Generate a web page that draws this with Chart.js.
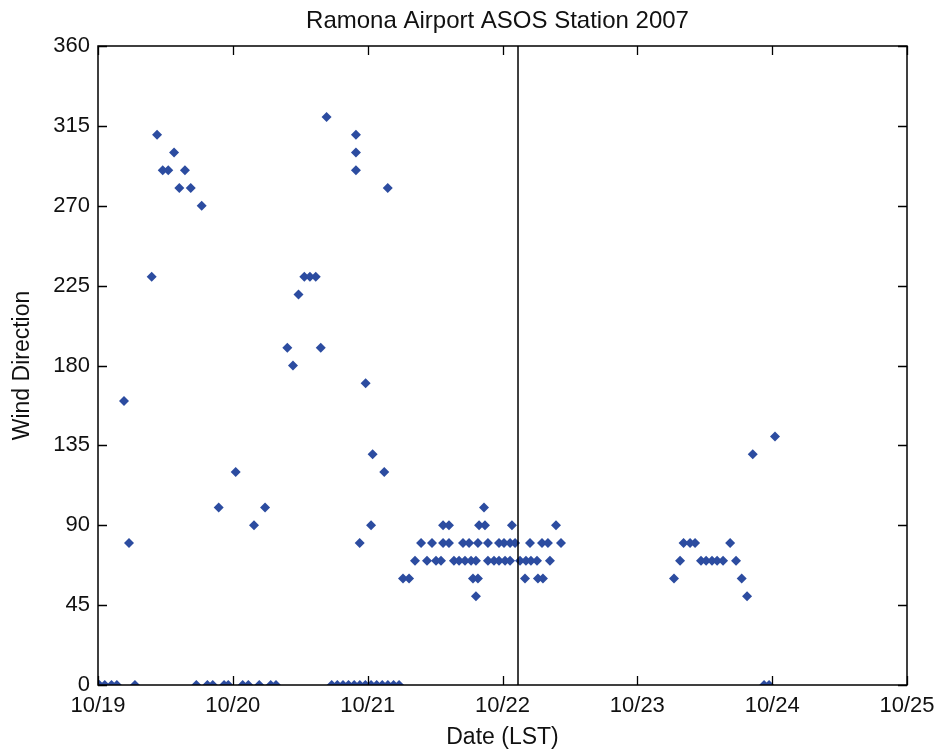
<!DOCTYPE html>
<html>
<head>
<meta charset="utf-8">
<script src="https://cdn.jsdelivr.net/npm/chart.js@4"></script>
<style>
html,body{margin:0;padding:0;background:#fff;}
#wrap{width:937px;height:752px;}
</style>
</head>
<body>
<div id="wrap"><canvas id="c" width="937" height="752"></canvas></div>
<script>
// ---- data (x = days since 10/19 00:00 LST, y = wind direction in degrees) ----
const chartTitle = 'Ramona Airport ASOS Station 2007';
const xTickLabels = ['10/19','10/20','10/21','10/22','10/23','10/24','10/25'];
const yTickValues = [0,45,90,135,180,225,270,315,360];
const markerLineDay = 3.115;

const obsDay = [
  0.01,0.05,0.10,0.14,0.193,0.230,0.274,0.398,0.438,0.480,0.521,0.564,0.603,0.645,0.688,
  0.729,0.769,0.811,0.851,0.895,0.935,0.966,1.021,1.073,1.115,1.157,1.196,1.239,1.281,1.320,
  1.404,1.446,1.487,1.530,1.572,1.615,1.652,1.695,
  1.733,1.775,1.817,1.858,1.900,1.942,1.983,2.025,2.067,2.108,2.150,2.192,2.233,
  1.913,1.913,1.913,1.941,1.985,2.025,2.037,2.123,2.149,
  2.262,2.307,2.781,2.818,3.167,3.263,3.300,
  2.803,2.863,
  2.559,2.603,2.826,2.870,3.070,3.397,
  2.396,2.477,2.559,2.603,2.707,2.752,2.818,2.892,2.974,3.011,3.056,3.093,3.204,3.293,3.337,3.434,
  2.351,2.440,2.507,2.544,2.640,2.678,2.722,2.767,2.803,2.892,2.937,2.974,3.019,3.056,3.130,3.174,3.211,3.256,3.352,
  4.272,4.317,4.343,4.391,4.428,4.472,4.510,4.554,4.592,4.636,4.688,4.732,4.774,4.814,4.856,4.940,4.977,5.021
];
const obsDir = [
  0,0,0,0,160,80,0,230,310,290,290,300,280,290,280,
  0,270,0,0,100,0,0,120,0,0,90,0,100,0,0,
  190,180,220,230,230,230,190,320,
  0,0,0,0,0,0,0,0,0,0,0,0,0,
  310,300,290,80,170,90,130,120,280,
  60,60,60,60,60,60,60,
  50,100,
  90,90,90,90,90,90,
  80,80,80,80,80,80,80,80,80,80,80,80,80,80,80,80,
  70,70,70,70,70,70,70,70,70,70,70,70,70,70,70,70,70,70,70,
  60,70,80,80,80,70,70,70,70,70,80,70,60,50,130,0,0,140
];

const points = obsDay.map((d,i)=>({x:d,y:obsDir[i]}));
const vline = [{x:markerLineDay,y:yTickValues[0]},{x:markerLineDay,y:yTickValues[yTickValues.length-1]}];

const FONT = 'Liberation Sans, Arial, sans-serif';

const frameTicks = {
  id:'frameTicks',
  afterDatasetsDraw(chart){
    const {ctx, chartArea:a, scales:{x,y}} = chart;
    const L = 9;
    ctx.save();
    ctx.strokeStyle = '#000';
    ctx.lineWidth = 1.3;
    ctx.beginPath();
    x.ticks.forEach(t=>{
      const px = Math.round(x.getPixelForValue(t.value))+0.5;
      ctx.moveTo(px,a.bottom); ctx.lineTo(px,a.bottom-L);
      ctx.moveTo(px,a.top); ctx.lineTo(px,a.top+L);
    });
    y.ticks.forEach(t=>{
      const py = Math.round(y.getPixelForValue(t.value))+0.5;
      ctx.moveTo(a.left,py); ctx.lineTo(a.left+L,py);
      ctx.moveTo(a.right,py); ctx.lineTo(a.right-L,py);
    });
    ctx.stroke();
    ctx.lineWidth = 1.5;
    ctx.strokeRect(a.left, a.top, a.right-a.left, a.bottom-a.top);
    ctx.restore();
  }
};

const titlePlugin = {
  id:'topTitle',
  afterDraw(chart){
    const {ctx, chartArea:a} = chart;
    ctx.save();
    ctx.fillStyle = '#111';
    ctx.font = '24px ' + FONT;
    ctx.textAlign = 'center';
    ctx.textBaseline = 'middle';
    ctx.fillText(chartTitle, (a.left+a.right)/2 - 5, 21);
    ctx.restore();
  }
};

new Chart(document.getElementById('c'), {
  type:'scatter',
  data:{
    datasets:[
      {
        label:'Wind Direction',
        data:points,
        pointStyle:'rectRot',
        pointRadius:5,
        pointHoverRadius:5,
        backgroundColor:'#2c4ca0',
        borderColor:'#2c4ca0',
        borderWidth:0,
        showLine:false,
        order:2
      },
      {
        label:'marker',
        type:'line',
        data:vline,
        borderColor:'#000',
        borderWidth:1.5,
        pointRadius:0,
        fill:false,
        order:1
      }
    ]
  },
  options:{
    responsive:false,
    animation:false,
    events:[],
    layout:{padding:{top:46,right:30,left:0,bottom:0}},
    plugins:{legend:{display:false},tooltip:{enabled:false},title:{display:false}},
    scales:{
      x:{
        type:'linear',
        min:0, max:xTickLabels.length-1,
        afterFit(s){ s.height = 67; s.paddingLeft = 0; s.paddingRight = 0; },
        afterBuildTicks(s){ s.ticks = xTickLabels.map((_,i)=>({value:i})); },
        grid:{display:false, drawTicks:false},
        border:{display:false},
        ticks:{
          padding:8,
          color:'#111',
          font:{family:FONT,size:22},
          maxRotation:0,
          callback:(v)=>xTickLabels[Math.round(v)]
        },
        title:{display:true,text:'Date (LST)',color:'#111',font:{family:FONT,size:23},padding:{top:0,bottom:1}}
      },
      y:{
        type:'linear',
        min:yTickValues[0], max:yTickValues[yTickValues.length-1],
        afterFit(s){ s.width = 98; s.paddingTop = 0; s.paddingBottom = 0; },
        afterBuildTicks(s){ s.ticks = yTickValues.map(v=>({value:v})); },
        grid:{display:false, drawTicks:false},
        border:{display:false},
        ticks:{
          padding:8,
          color:'#111',
          font:{family:FONT,size:22},
          callback:(v)=>String(v)
        },
        title:{display:true,text:'Wind Direction',color:'#111',font:{family:FONT,size:23},padding:{top:9,bottom:0}}
      }
    }
  },
  plugins:[frameTicks,titlePlugin]
});
</script>
</body>
</html>
